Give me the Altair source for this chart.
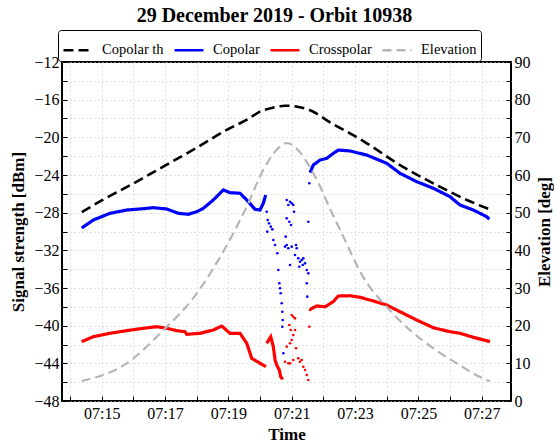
import altair as alt
import pandas as pd

SERIES = ["Copolar th", "Copolar", "Crosspolar", "Elevation"]
COLORS = ["#000000", "#0000ff", "#ff0000", "#b5b5b5"]
DASHES = [[10, 5], [1, 0], [1, 0], [9, 5]]

# time in minutes after 07:00
th_t = [14.37, 15.0, 16.0, 17.0, 18.0, 18.95, 19.6, 20.0, 20.4, 20.79, 21.26, 21.56, 22.3, 22.84, 23.37, 24.42, 25.47, 26.53, 27.21]
th_v = [-27.95, -26.7, -24.9, -23.0, -21.1, -19.2, -18.1, -17.27, -16.85, -16.64, -16.8, -17.1, -18.6, -19.57, -20.63, -22.94, -24.88, -26.65, -27.6]

co1_t = [14.368, 14.735, 15.262, 15.789, 16.314, 16.629, 17.053, 17.419, 17.735, 18.0, 18.208, 18.524, 18.84, 19.052, 19.367, 19.579, 19.841, 19.999, 20.103, 20.179]
co1_v = [-29.63, -28.78, -28.07, -27.72, -27.58, -27.47, -27.61, -28.07, -28.17, -27.9, -27.54, -26.65, -25.59, -25.88, -25.94, -26.65, -27.64, -27.72, -27.0, -26.12]
co2_t = [21.578, 21.682, 21.894, 22.105, 22.314, 22.471, 22.841, 23.368, 24.0, 24.42, 24.947, 25.471, 25.998, 26.314, 26.734, 27.158, 27.24]
co2_v = [-23.76, -22.94, -22.41, -22.23, -21.7, -21.35, -21.45, -21.88, -22.76, -23.82, -24.71, -25.41, -26.3, -27.19, -27.72, -28.43, -28.7]

co_pts_t = [20.21, 20.242, 20.283, 20.337, 20.387, 20.229, 20.419, 20.473, 20.545, 20.577, 20.608, 20.63, 20.652, 20.684, 20.703, 20.716, 20.703, 20.735,
            20.842, 20.893, 20.946, 21.0, 21.05, 21.073, 20.842, 20.924, 20.978, 20.81, 20.842, 20.893, 20.788, 20.946, 21.0, 21.136, 21.158,
            21.104, 21.208, 21.262, 21.316, 21.366, 21.24, 21.347, 21.42, 21.474, 21.524, 21.474, 21.493, 21.524, 21.556]
co_pts_v = [-27.9, -28.78, -29.13, -29.49, -29.77, -30.02, -30.9, -31.43, -32.31, -34.09, -35.5, -36.03, -36.56, -37.62, -38.52, -39.4, -40.11, -42.93,
            -26.65, -27.19, -26.84, -27.01, -27.19, -27.9, -28.6, -28.96, -29.31, -30.55, -31.43, -31.78, -31.61, -33.56, -31.61, -31.43, -31.78,
            -32.5, -32.85, -33.21, -33.03, -32.85, -33.74, -33.56, -33.38, -34.09, -34.44, -35.5, -36.92, -28.96, -24.88]

cr1_t = [14.368, 14.735, 15.262, 15.789, 16.314, 16.737, 17.053, 17.368, 17.63, 17.684, 18.104, 18.524, 18.789, 19.052, 19.367, 19.579, 19.737, 19.999, 20.188]
cr1_v = [-41.7, -41.17, -40.81, -40.53, -40.28, -40.11, -40.28, -40.53, -40.64, -40.92, -40.81, -40.46, -40.04, -40.81, -40.81, -41.87, -43.47, -44.0, -44.36]
cr2_t = [20.21, 20.337, 20.419, 20.473, 20.526, 20.608, 20.653, 20.716]
cr2_v = [-41.87, -41.17, -42.23, -43.63, -44.18, -44.7, -45.42, -45.7]
cr3_t = [21.578, 21.789, 22.052, 22.314, 22.471, 22.841, 23.157, 23.577, 24.0, 24.42, 24.947, 25.471, 25.998, 26.314, 26.734, 27.262]
cr3_v = [-38.26, -37.91, -37.99, -37.45, -36.85, -36.82, -36.99, -37.38, -37.81, -38.52, -39.4, -40.22, -40.64, -40.81, -41.24, -41.7]

cr_pts_t = [21.0, 21.05, 21.104, 20.924, 20.968, 21.104, 21.05, 20.842, 20.946, 21.0, 21.136, 20.788, 20.893, 20.946, 21.05, 21.208, 21.262,
            21.316, 21.366, 21.42, 21.474, 21.524, 21.578, 21.556]
cr_pts_v = [-38.87, -39.05, -39.22, -39.93, -40.46, -40.46, -40.99, -42.23, -41.87, -41.52, -42.4, -43.83, -44.0, -44.0, -43.65, -43.47, -43.83,
            -43.65, -44.36, -44.71, -45.24, -45.77, -38.34, -40.11]

el_t = [14.368, 15.789, 16.945, 17.842, 18.893, 19.578, 20.103, 20.526, 20.842, 21.262, 21.578, 21.894, 22.21, 22.525, 23.314, 23.999, 24.735, 25.471, 26.21, 27.157, 27.26]
el_v = [5.3, 10.0, 18.8, 26.8, 40.5, 51.6, 61.4, 66.7, 68.5, 66.0, 62.0, 57.0, 51.0, 45.5, 32.1, 25.0, 18.8, 14.0, 10.0, 5.6, 5.3]

X_TICKS = list(range(14, 28))
Y_TICKS = list(range(-48, -11, 2))
E_TICKS = list(range(0, 91, 5))

FONT = "Liberation Serif"

th_df = pd.DataFrame({"t": th_t, "v": th_v, "series": "Copolar th", "seg": "th"})
pol_df = pd.concat([
    pd.DataFrame({"t": co1_t, "v": co1_v, "series": "Copolar", "seg": "co1"}),
    pd.DataFrame({"t": co2_t, "v": co2_v, "series": "Copolar", "seg": "co2"}),
    pd.DataFrame({"t": cr1_t, "v": cr1_v, "series": "Crosspolar", "seg": "cr1"}),
    pd.DataFrame({"t": cr2_t, "v": cr2_v, "series": "Crosspolar", "seg": "cr2"}),
    pd.DataFrame({"t": cr3_t, "v": cr3_v, "series": "Crosspolar", "seg": "cr3"}),
], ignore_index=True)
co_pts = pd.DataFrame({"t": co_pts_t, "v": co_pts_v})
cr_pts = pd.DataFrame({"t": cr_pts_t, "v": cr_pts_v})
el_df = pd.DataFrame({"t": el_t, "elev": el_v, "series": "Elevation"})

leg = alt.Legend(title=None, orient="none", legendX=-4, legendY=-32, direction="horizontal", columns=4,
                 symbolType="stroke", symbolSize=841, symbolStrokeWidth=2.5, labelFont=FONT, labelFontSize=14.5,
                 labelColor="black", strokeColor="black", fillColor="white", cornerRadius=3, padding=4,
                 columnPadding=5, labelOffset=8, symbolOffset=0)
color = alt.Color("series:N", scale=alt.Scale(domain=SERIES, range=COLORS), legend=leg)
dash = alt.StrokeDash("series:N", scale=alt.Scale(domain=SERIES, range=DASHES), legend=leg)

x = alt.X("t:Q", scale=alt.Scale(domain=[13.746, 27.924], nice=False, zero=False),
          axis=alt.Axis(values=X_TICKS, labelExpr="datum.value % 2 == 1 ? '07:' + datum.value : ''",
                        title="Time", offset=-5, tickSize=5, labelPadding=4, titlePadding=5))
y = alt.Y("v:Q", scale=alt.Scale(domain=[-48, -12], nice=False, zero=False),
          axis=alt.Axis(values=Y_TICKS, labelExpr="datum.value % 4 == 0 ? replace(format(datum.value, 'd'), '-', '\u2212') : ''",
                        title="Signal strength [dBm]", offset=-5, tickSize=5, labelPadding=3, titlePadding=6))
y_el = alt.Y("elev:Q", scale=alt.Scale(domain=[0, 90], nice=False, zero=False),
             axis=alt.Axis(orient="right", values=E_TICKS, labelExpr="datum.value % 10 == 0 ? datum.value : ''",
                           title="Elevation [deg]", grid=False, offset=-5, tickSize=5, labelPadding=3,
                           titleAngle=270, titleBaseline="top", titlePadding=6))

th_layer = alt.Chart(th_df).mark_line(strokeWidth=2.6, interpolate="monotone").encode(
    x=x, y=y, color=color, strokeDash=dash, detail="seg:N")
pol_layer = alt.Chart(pol_df).mark_line(strokeWidth=3.2).encode(x=x, y=y, color=color, strokeDash=dash, detail="seg:N")
co_pt_layer = alt.Chart(co_pts).mark_circle(size=7, color="#0000ff", opacity=1).encode(x=x, y=y)
cr_pt_layer = alt.Chart(cr_pts).mark_circle(size=7, color="#ff0000", opacity=1).encode(x=x, y=y)
left = alt.layer(th_layer, pol_layer, co_pt_layer, cr_pt_layer)
el_layer = alt.Chart(el_df).mark_line(strokeWidth=2.2, interpolate="monotone").encode(
    x=x, y=y_el, color=color, strokeDash=dash)

chart = alt.layer(left, el_layer).resolve_scale(y="independent").properties(
    width=449, height=339,
    autosize=alt.AutoSizeParams(type="none"),
    padding={"left": 62, "top": 62, "right": 43, "bottom": 47},
    title=alt.TitleParams("29 December 2019 - Orbit 10938", font=FONT, fontSize=20, fontWeight="bold",
                          anchor="middle", dx=-12, color="black"),
).configure_view(stroke="black", strokeWidth=2).configure_axis(
    labelFont=FONT, labelFontSize=16, labelColor="black", titleFont=FONT, titleFontSize=17,
    titleFontWeight="bold", titleColor="black", gridColor="#c8c8c8", gridDash=[1, 3], gridWidth=1,
    tickColor="black", tickWidth=1, domain=False,
).configure_legend(symbolType="stroke")

chart.save("out.html", embed_options={"renderer": "svg", "actions": False})
